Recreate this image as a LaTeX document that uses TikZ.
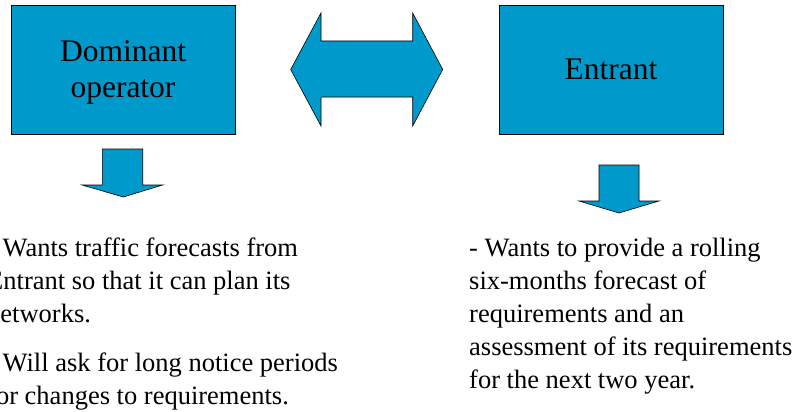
\documentclass[tikz,border=0pt]{standalone}
\usepackage{fontspec}
\setmainfont{Liberation Serif}
\newfontfamily\timesfont{Liberation Serif}
\definecolor{boxblue}{RGB}{0,153,204}
\begin{document}
\begin{tikzpicture}[x=1pt,y=-1pt,
  bluebox/.style={draw=black,line width=0.8pt,fill=boxblue,minimum width=224pt,minimum height=129pt,inner sep=0pt,align=center,font=\timesfont\fontsize{31.5}{36}\selectfont},
  blockarrow/.style={draw=black,line width=0.6pt,fill=boxblue,line join=miter},
  bodytext/.style={inner sep=0pt,anchor=north west,align=left,font=\timesfont\fontsize{26.5}{33}\selectfont}]
\useasboundingbox (0,0) rectangle (795,412);
\clip (0,0) rectangle (795,412);
% boxes
\node[bluebox] (dom) at (123,69.5) {};
\node[align=center,inner sep=0pt,font=\timesfont\fontsize{31.5}{36}\selectfont] (domtext) at ([yshift=-3pt]dom.center) {Dominant\\operator};
\node[bluebox] (ent) at (611,69.5) {Entrant};
% double arrow between the boxes
\coordinate (dl) at (290.7,69.5);
\coordinate (dr) at (442.7,69.5);
\draw[blockarrow] (dl) -- (321,13) -- (321,41) -- (412.7,41) -- (412.7,13) -- (dr)
  -- (412.7,126) -- (412.7,97) -- (321,97) -- (321,126) -- cycle;
% down arrows
\coordinate (ltip) at (123.3,197);
\coordinate (rtip) at (619,213);
\draw[blockarrow] (102.3,149) -- (142.7,149) -- (142.7,185) -- (162.7,185) -- (ltip)
  -- (82,185) -- (102.3,185) -- cycle;
\draw[blockarrow] (599,165) -- (639,165) -- (639,201) -- (659,201) -- (rtip)
  -- (579,201) -- (599,201) -- cycle;
% texts
\node[bodytext] (ltext) at (-13,237.9) {- Wants traffic forecasts from\\Entrant so that it can plan its\\networks.\\[16pt]- Will ask for long notice periods\\for changes to requirements.};
\node[bodytext] (rtext) at (469,237.9) {- Wants to provide a rolling\\six-months forecast of\\requirements and an\\assessment of its requirements\\for the next two year.};
\end{tikzpicture}
\end{document}
